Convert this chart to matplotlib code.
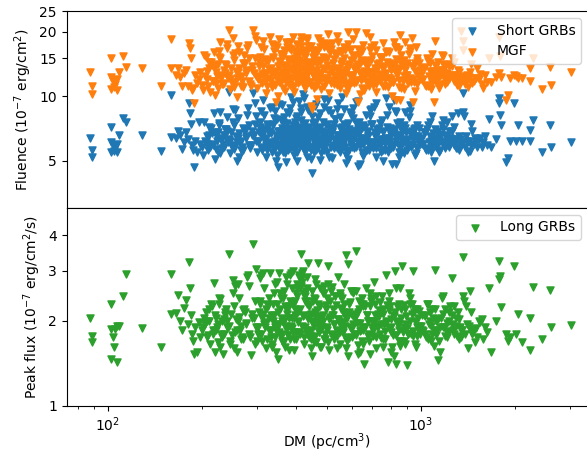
import matplotlib.pyplot as plt
from matplotlib.ticker import NullLocator

# DM (pc/cm^3) of each burst, shared by the three series
dm = [
    # sparse low-DM points
    87.6, 88.9, 88.9, 102.2, 102.0, 103.5, 104.5, 102.5, 106.5, 107.0,
    105.5, 108.4, 111.7, 114.2, 128.4, 147.7, 159, 159,
    # 165 - 200
    165, 168, 170, 172, 175, 178, 180, 182, 183, 184,
    185, 187, 188, 190, 192, 195, 197, 199,
    # 200 - 305
    201, 202, 205, 207, 210, 212, 215, 218, 220, 222,
    225, 228, 230, 233, 236, 240, 244, 246, 250, 252,
    255, 258, 260, 264, 268, 272, 276, 282, 286, 290,
    293, 298, 302, 305,
    # dense part, first pass
    310, 313, 316, 320, 323, 326, 329, 332, 335, 338,
    342, 345, 349, 352, 355, 358, 362, 365, 368, 372,
    375, 378, 382, 385, 388, 392, 395, 398, 402, 405,
    408, 411, 415, 418, 421, 425, 428, 431, 435, 438,
    442, 446, 448, 452, 455, 458, 462, 464, 468, 472,
    476, 480, 485, 490, 495, 500, 505, 510, 515, 520,
    526, 532, 538, 544, 550, 556, 562, 568, 575, 578,
    585, 592, 600, 607, 615, 622, 630, 638, 645, 652,
    657, 667, 675, 683, 692, 700, 710, 720, 730, 740,
    750, 762, 775, 785, 795, 805, 810, 825, 835, 845,
    857, 860, 870, 885, 900, 915, 930, 937, 945, 960,
    975, 990,
    # dense part, second pass
    303, 307, 311, 318, 321, 327, 331, 336, 340, 344,
    348, 351, 354, 357, 361, 364, 367, 371, 374, 377,
    381, 384, 387, 391, 394, 397, 400, 403, 406, 409,
    412, 416, 419, 423, 426, 430, 433, 437, 440, 444,
    450, 454, 457, 460, 466, 470, 474, 478, 483, 487,
    492, 497, 502, 507, 512, 518, 523, 529, 535, 541,
    547, 553, 559, 565, 571, 581, 588, 596, 603, 611,
    619, 626, 634, 641, 649, 660, 670, 679, 688, 696,
    705, 715, 725, 735, 745, 756, 768, 780, 790, 800,
    815, 830, 840, 850, 865, 878, 892, 905, 920, 940,
    952, 968, 982, 995,
    # band edges
    309, 334, 347, 360, 370, 380, 390, 401, 413, 424,
    434, 447, 461, 475, 489, 504, 520, 540, 560, 583,
    605, 628, 655, 690, 720, 755, 790, 820, 850, 890,
    925, 965, 240, 262, 280, 296, 228,
    # high DM
    1010, 1030, 1045, 1060, 1068, 1080, 1095, 1100, 1113, 1125,
    1130, 1150, 1165, 1180, 1195, 1208, 1225, 1240, 1253, 1270,
    1290, 1313, 1330, 1345, 1364, 1364, 1375, 1390, 1400, 1410,
    1437, 1450, 1460, 1473, 1485, 1510, 1530, 1567, 1580, 1600,
    1650, 1670, 1735, 1780, 1780, 1790, 1800, 1872, 1900, 1922,
    1982, 2010, 2040, 2107, 2228, 2230, 2282, 2429, 2582, 2600,
    3027,
    # extra fill, 200 - 300
    204, 209, 213, 217, 221, 224, 227, 232, 235, 238,
    242, 245, 248, 251, 254, 257, 261, 266, 270, 274,
    278, 284, 288, 295, 299,
    # extra fill, 300 - 1000
    301, 305, 308, 312, 315, 319, 322, 325, 328, 333,
    337, 341, 343, 346, 350, 353, 356, 359, 363, 366,
    369, 373, 376, 379, 383, 386, 389, 393, 396, 399,
    404, 407, 410, 414, 417, 420, 422, 427, 429, 432,
    436, 439, 443, 445, 449, 453, 456, 459, 463, 467,
    471, 477, 481, 486, 491, 496, 501, 506, 511, 516,
    522, 527, 533, 539, 545, 551, 557, 563, 569, 576,
    582, 590, 598, 606, 613, 621, 632, 643, 654, 665,
    677, 690, 702, 714, 727, 742, 758, 772, 788, 803,
    818, 833, 848, 863, 880, 897, 912, 934, 957, 985,
    # extra fill, 1000 - 1700
    1005, 1020, 1038, 1052, 1075, 1088, 1105, 1120, 1140, 1158,
    1172, 1188, 1215, 1232, 1260, 1280, 1300, 1322, 1355, 1382,
    1420, 1445, 1495, 1545, 1620,
    # extra fill, 550 - 1350
    545, 553, 561, 570, 579, 587, 595, 604, 612, 620,
    629, 637, 646, 655, 664, 673, 682, 691, 701, 711,
    721, 732, 743, 754, 765, 777, 789, 801, 813, 826,
    839, 852, 866, 880, 894, 909, 924, 940, 956, 972,
    988, 1003, 1018, 1034, 1050, 1066, 1083, 1100, 1118, 1136,
    1154, 1173, 1192, 1212, 1232, 1253, 1275, 1297, 1320, 1343,
    # extra fill, 200 - 300 again
    207, 211, 216, 219, 223, 226, 231, 234, 237, 243,
    249, 253, 259, 263, 267, 271, 277, 283, 289, 297,
]

# fluence, short GRB spectrum (1e-7 erg/cm^2)
fluence_short = [
    6.37, 5.61, 5.18, 7.17, 6.1, 5.9, 5.55, 5.5, 6.0, 5.5,
    5.8, 6.56, 7.88, 7.55, 6.56, 5.57, 10.1, 6.41,
    6.4, 6.9, 6.56, 5.67, 6.1, 6.8, 6.3, 9.25, 8.3, 7.4,
    5.9, 5.6, 4.65, 6.2, 5.5, 7.55, 6.0, 5.8,
    5.3, 7.55, 6.1, 6.0, 6.56, 5.8, 6.7, 8.3, 5.1, 5.67,
    6.8, 8.43, 6.3, 6.0, 6.6, 6.9, 10.5, 6.2, 8.75, 5.67,
    8.6, 5.0, 6.4, 6.1, 5.8, 7.0, 6.5, 7.3, 5.9, 10.3,
    6.56, 8.1, 6.2, 7.1,
    5.6, 9.6, 6.3, 5.2, 7.4, 6.0, 8.8, 6.7, 5.5, 7.9,
    6.2, 5.0, 4.66, 9.2, 6.9, 5.8, 7.6, 6.4, 5.4, 8.4,
    6.1, 7.1, 5.7, 9.9, 6.6, 5.3, 7.3, 6.0, 8.1, 6.8,
    9.5, 5.9, 7.7, 6.3, 10.2, 5.5, 7.0, 6.5, 8.6, 5.8,
    6.9, 5.1, 4.36, 7.5, 6.2, 9.0, 5.6, 6.7, 8.0, 6.1,
    7.2, 5.4, 6.6, 9.7, 5.9, 7.4, 6.3, 5.2, 8.3, 6.8,
    5.7, 7.8, 6.0, 9.3, 5.5, 7.0, 6.4, 8.7, 5.3, 4.85,
    7.5, 6.2, 5.8, 7.9, 6.6, 9.4, 4.73, 4.8, 7.2, 6.0,
    5.4, 8.2, 6.5, 5.6, 7.4, 6.1, 8.9, 5.2, 6.8, 5.9,
    7.7, 6.3, 9.8, 5.5, 7.1, 6.0, 4.8, 8.5, 4.8, 6.6,
    7.6, 5.7, 6.9, 5.4, 6.2, 8.0, 5.8, 6.5, 6.7, 5.3,
    7.3, 6.0,
    6.8, 7.2, 6.5, 7.0, 5.9, 6.9, 6.1, 7.3, 5.7, 6.6,
    7.8, 6.0, 5.6, 6.4, 7.1, 5.9, 6.8, 6.2, 7.5, 5.6,
    6.5, 7.0, 6.1, 5.8, 6.9, 7.6, 6.3, 5.5, 6.7, 7.2,
    6.0, 6.5, 5.7, 7.4, 6.2, 6.9, 5.9, 7.1, 6.4, 5.6,
    6.8, 7.3, 6.0, 6.5, 5.7, 7.0, 6.3, 6.9, 5.8, 7.6,
    6.2, 6.7, 5.5, 7.2, 6.4, 6.9, 5.9, 7.4, 6.1, 6.6,
    5.6, 7.1, 6.3, 6.8, 5.8, 7.3, 6.5, 6.0, 6.9, 5.7,
    7.5, 6.2, 6.7, 5.9, 7.1, 6.4, 5.6, 6.9, 6.1, 7.4,
    5.8, 6.6, 7.0, 6.2, 5.5, 6.8, 6.0, 7.2, 6.4, 5.7,
    6.9, 6.2, 7.5, 5.9, 6.6, 6.1, 7.1, 5.6, 6.7, 6.3,
    7.0, 5.8, 6.5, 6.0,
    8.5, 8.9, 5.3, 9.1, 4.9, 8.3, 9.4, 4.95, 8.8, 9.8,
    5.2, 8.6, 9.2, 5.05, 8.9, 9.6, 5.15, 8.7, 9.9, 5.1,
    8.8, 9.5, 5.25, 8.6, 9.3, 5.0, 8.9, 9.6, 5.2, 8.4,
    9.1, 5.4, 8.0, 5.2, 8.8, 9.3, 5.4,
    6.4, 5.7, 7.0, 6.1, 7.55, 5.5, 6.7, 5.0, 6.3, 5.9,
    6.9, 5.6, 7.3, 6.0, 6.6, 7.55, 5.8, 6.4, 8.1, 6.1,
    5.7, 8.3, 6.3, 5.9, 10.4, 8.4, 8.1, 6.5, 6.2, 5.47,
    5.55, 7.43, 6.9, 6.0, 6.4, 5.8, 6.3, 5.77, 6.1, 6.5,
    7.79, 5.77, 6.33, 9.8, 9.24, 8.2, 7.36, 4.9, 5.12, 6.14,
    9.24, 6.14, 7.36, 6.14, 6.92, 6.14, 7.71, 5.47, 7.36, 5.77,
    6.1,
    6.2, 5.6, 7.1, 6.0, 6.6, 5.5, 7.3, 6.4, 5.8, 7.0,
    6.1, 5.4, 6.8, 7.6, 5.9, 6.5, 7.9, 6.2, 5.6, 6.9,
    8.2, 5.7, 6.6, 7.4, 5.5,
    6.1, 7.6, 5.8, 6.9, 8.2, 6.4, 5.6, 7.2, 6.7, 6.0,
    7.4, 5.7, 8.5, 6.3, 6.9, 5.9, 7.7, 6.5, 5.5, 8.0,
    6.2, 7.0, 5.8, 6.6, 8.8, 6.1, 7.3, 5.6, 6.8, 7.9,
    6.4, 5.9, 7.1, 8.4, 6.2, 6.7, 5.7, 7.5, 6.0, 8.9,
    6.5, 7.2, 5.8, 6.9, 8.1, 6.3, 5.5, 7.6, 6.6, 7.0,
    5.9, 8.3, 6.4, 6.8, 5.6, 7.3, 6.1, 8.6, 6.7, 5.8,
    7.1, 6.3, 7.8, 5.7, 6.5, 8.0, 6.2, 5.9, 7.4, 6.6,
    5.5, 7.0, 8.2, 6.3, 5.8, 6.9, 7.6, 6.0, 5.4, 7.2,
    6.5, 8.1, 5.7, 6.8, 6.1, 7.5, 5.6, 6.4, 7.0, 5.9,
    6.7, 8.4, 6.0, 5.5, 7.3, 6.3, 5.8, 6.9, 7.1, 6.2,
    6.0, 6.8, 5.6, 7.3, 6.2, 5.8, 7.0, 6.4, 5.5, 6.6,
    7.7, 6.1, 5.9, 6.9, 6.3, 7.2, 5.7, 6.5, 6.0, 5.8,
    6.2, 5.9, 6.1, 6.4, 5.9,
    6.6, 5.9, 7.2, 6.3, 6.9, 5.6, 8.4, 6.1, 6.7, 5.8,
    7.0, 6.4, 5.5, 7.3, 6.2, 6.8, 5.9, 8.7, 6.0, 6.5,
    5.7, 7.1, 6.3, 6.9, 5.6, 8.2, 6.1, 6.6, 5.8, 7.0,
    6.4, 5.5, 7.2, 6.2, 6.8, 5.9, 8.5, 6.0, 6.5, 5.7,
    7.1, 6.3, 6.0, 6.8, 5.6, 6.5, 8.1, 6.1, 5.8, 6.6,
    6.2, 7.0, 5.7, 6.4, 6.0, 6.9, 5.9, 6.3, 5.6, 6.1,
    6.5, 7.2, 5.9, 6.8, 6.2, 7.5, 5.7, 6.6, 7.0, 6.3,
    5.8, 7.3, 6.1, 6.7, 5.6, 7.1, 6.4, 5.9, 6.9, 6.2,
]

# fluence, MGF spectrum (1e-7 erg/cm^2)
fluence_mgf = [
    12.97, 11.14, 10.2, 15.1, 12.3, 11.8, 11.0, 10.8, 12.0, 10.7,
    11.4, 13.0, 15.4, 13.7, 13.5, 11.1, 18.5, 13.5,
    12.6, 13.5, 12.3, 11.2, 12.8, 13.2, 11.1, 17.7, 16.8, 15.1,
    10.7, 10.9, 9.25, 12.5, 11.5, 12.0, 13.0, 11.3,
    10.7, 15.6, 15.2, 12.0, 13.5, 10.5, 14.0, 16.0, 10.1, 11.5,
    14.2, 15.0, 12.2, 11.4, 12.8, 16.8, 20.4, 12.0, 18.7, 11.0,
    15.9, 9.9, 13.0, 12.4, 11.8, 15.6, 13.3, 15.1, 11.2, 20.4,
    12.8, 18.3, 12.0, 14.5,
    11.5, 18.2, 12.8, 10.3, 14.8, 12.1, 19.0, 13.6, 11.0, 16.2,
    12.5, 9.4, 10.0, 18.5, 14.0, 11.7, 15.4, 12.9, 10.6, 17.0,
    12.3, 14.4, 11.3, 16.5, 13.2, 10.5, 15.0, 12.0, 17.5, 13.8,
    15.8, 11.8, 18.8, 12.6, 16.4, 10.9, 14.2, 13.0, 17.2, 11.6,
    13.9, 9.0, 8.75, 15.2, 12.4, 14.6, 11.1, 9.75, 18.7, 12.2,
    14.6, 10.8, 13.4, 17.8, 11.9, 15.0, 19.5, 10.4, 16.6, 13.6,
    11.4, 15.8, 12.0, 18.0, 10.9, 14.1, 12.8, 16.9, 10.3, 11.5,
    20.0, 12.4, 11.6, 15.5, 13.2, 20.0, 9.4, 10.2, 14.5, 12.1,
    10.7, 19.8, 13.0, 11.2, 14.8, 12.3, 17.3, 10.5, 13.7, 11.8,
    15.3, 12.6, 16.0, 11.0, 14.3, 12.0, 10.0, 17.0, 9.6, 13.1,
    19.4, 9.6, 14.0, 10.8, 12.5, 15.8, 11.6, 18.7, 9.4, 10.6,
    14.6, 12.0,
    13.9, 14.3, 12.7, 14.9, 11.9, 13.4, 12.9, 15.3, 11.4, 13.1,
    12.2, 14.6, 11.8, 15.7, 12.4, 13.7, 16.3, 11.6, 13.2, 14.9,
    12.0, 16.6, 13.5, 11.1, 14.2, 12.7, 15.5, 12.9, 11.5, 14.8,
    13.3, 16.0, 12.1, 14.4, 11.8, 15.9, 12.6, 13.8, 16.8, 11.3,
    14.1, 12.5, 15.6, 13.0, 11.7, 16.4, 12.8, 14.7, 12.2, 15.2,
    13.4, 11.6, 14.0, 12.7, 16.1, 13.1, 11.9, 14.9, 12.3, 15.7,
    13.5, 11.7, 14.4, 12.9, 16.5, 13.3, 11.4, 14.7, 12.6, 15.1,
    13.6, 11.9, 14.0, 12.8, 16.2, 13.1, 11.5, 14.6, 12.4, 15.4,
    13.0, 11.7, 14.2, 12.7, 15.0, 13.4, 11.9, 14.5, 12.2, 13.8,
    11.6, 14.9, 12.6, 13.5, 15.6, 11.8, 13.2, 14.3, 12.1, 13.9,
    11.7, 15.1, 12.5, 13.2,
    16.9, 17.6, 17.0, 15.0, 18.0, 16.8, 19.0, 17.4, 18.2, 16.0,
    18.6, 17.1, 16.3, 18.1, 17.0, 16.6, 17.8, 19.2, 16.2, 17.5,
    18.4, 16.7, 17.3, 18.9, 16.4, 17.7, 16.1, 17.9, 16.6, 18.0,
    16.3, 17.0, 17.5, 16.0, 17.3, 19.2, 18.0,
    13.6, 11.3, 15.0, 12.4, 14.3, 10.8, 13.1, 9.4, 18.1, 12.0,
    14.5, 11.4, 15.6, 12.8, 13.7, 11.8, 12.5, 14.1, 15.0, 12.2,
    11.6, 13.2, 12.0, 20.1, 18.1, 16.5, 12.4, 11.9, 12.6, 11.0,
    12.9, 14.2, 11.5, 11.8, 12.1, 13.5, 12.0, 11.4, 10.9, 12.5,
    15.1, 11.7, 12.3, 19.0, 12.8, 15.4, 12.3, 9.58, 10.1, 12.2,
    12.5, 12.4, 12.2, 12.2, 13.5, 11.8, 15.0, 10.8, 13.7, 11.3,
    12.9,
    12.4, 11.2, 14.5, 11.8, 13.0, 10.9, 16.2, 12.6, 11.5, 14.0,
    12.1, 10.8, 13.6, 15.5, 11.7, 13.1, 17.2, 12.3, 11.0, 14.3,
    16.8, 11.4, 13.3, 15.0, 10.9,
    12.2, 15.3, 11.6, 13.9, 16.6, 12.8, 11.1, 14.6, 13.4, 11.9,
    15.0, 11.3, 17.4, 12.6, 13.8, 11.7, 15.8, 13.0, 10.9, 16.5,
    12.4, 14.0, 11.5, 13.2, 18.0, 12.2, 14.7, 11.1, 13.7, 16.2,
    12.9, 11.8, 14.3, 17.1, 12.4, 13.5, 11.3, 15.2, 11.9, 18.3,
    13.0, 14.5, 11.6, 13.9, 16.4, 12.6, 10.9, 15.4, 13.2, 14.1,
    11.8, 16.9, 12.8, 13.6, 11.1, 14.8, 12.2, 17.6, 13.4, 11.5,
    14.3, 12.6, 15.9, 11.3, 13.0, 16.3, 12.4, 11.8, 15.0, 13.2,
    10.9, 14.1, 16.7, 12.6, 11.5, 13.9, 15.5, 11.9, 10.7, 14.5,
    13.0, 16.5, 11.3, 13.6, 12.2, 15.2, 11.1, 12.8, 14.1, 11.7,
    13.4, 17.0, 11.9, 10.9, 14.8, 12.6, 11.5, 13.9, 14.3, 12.4,
    11.9, 13.6, 11.1, 14.6, 12.3, 11.5, 14.0, 12.8, 10.9, 13.2,
    15.4, 12.1, 11.7, 13.8, 12.5, 14.4, 11.3, 12.9, 11.9, 11.4,
    12.3, 11.7, 12.1, 12.7, 11.6,
    13.3, 11.8, 14.6, 12.5, 13.9, 11.2, 16.5, 12.2, 13.5, 11.6,
    14.1, 12.8, 10.9, 14.8, 12.4, 13.7, 11.8, 17.0, 12.0, 13.1,
    11.4, 14.3, 12.6, 13.9, 11.2, 16.2, 12.2, 13.3, 11.6, 14.1,
    12.8, 11.0, 14.6, 12.4, 13.7, 11.8, 16.8, 12.0, 13.1, 11.4,
    14.3, 12.6, 12.0, 13.7, 11.2, 13.1, 15.8, 12.2, 11.6, 13.3,
    12.4, 14.1, 11.4, 12.8, 12.0, 13.9, 11.8, 12.6, 11.2, 12.2,
    13.1, 14.5, 11.8, 13.7, 12.4, 15.2, 11.4, 13.3, 14.1, 12.6,
    11.6, 14.8, 12.2, 13.5, 11.2, 14.3, 12.8, 11.8, 13.9, 12.4,
]

# peak flux, long GRB spectrum (1e-7 erg/cm^2/s)
peak_long = [
    2.05, 1.77, 1.68, 2.29, 1.87, 1.75, 1.61, 1.47, 1.92, 1.43,
    1.87, 1.92, 2.45, 2.93, 1.88, 1.61, 2.92, 2.12,
    2.13, 2.46, 2.0, 1.85, 2.21, 2.37, 1.95, 3.22, 2.6, 2.1,
    1.8, 1.7, 1.53, 1.9, 1.55, 1.98, 1.75, 1.85,
    1.9, 2.05, 2.15, 1.75, 2.0, 1.65, 2.25, 2.72, 1.55, 1.85,
    1.95, 2.38, 1.8, 1.53, 2.1, 1.9, 3.45, 1.7, 2.78, 1.6,
    2.65, 1.55, 2.0, 1.85, 1.75, 2.2, 1.95, 2.65, 1.51, 3.74,
    2.05, 3.04, 1.8, 2.83,
    1.7, 2.95, 1.95, 1.6, 2.3, 1.85, 2.95, 2.1, 1.65, 2.5,
    1.9, 1.55, 1.46, 2.95, 2.2, 1.75, 2.4, 2.0, 1.62, 2.7,
    1.9, 2.25, 1.72, 2.95, 2.05, 1.58, 2.35, 1.82, 2.6, 2.15,
    2.9, 1.8, 3.45, 2.75, 3.0, 2.45, 2.55, 2.3, 3.2, 1.75,
    2.1, 1.6, 1.5, 2.35, 1.92, 2.8, 1.68, 2.05, 3.2, 1.88,
    2.25, 1.62, 2.0, 2.65, 1.8, 2.4, 3.12, 1.58, 2.55, 2.1,
    1.72, 2.45, 1.85, 2.85, 1.65, 2.2, 1.98, 2.7, 1.6, 3.4,
    3.16, 1.9, 1.75, 2.5, 2.05, 3.52, 1.52, 1.55, 2.3, 1.85,
    1.41, 2.6, 2.0, 1.7, 2.35, 1.9, 2.75, 1.6, 2.12, 1.8,
    2.45, 1.95, 2.9, 1.43, 2.25, 1.55, 1.62, 2.99, 1.41, 2.0,
    2.6, 1.63, 3.12, 1.7, 1.39, 2.5, 1.8, 2.3, 2.99, 1.65,
    2.2, 1.85,
    2.15, 2.3, 2.05, 1.9, 2.2, 2.4, 1.75, 2.0, 2.1, 1.85,
    2.3, 1.95, 2.5, 1.8, 2.05, 1.7, 2.25, 1.88, 2.12, 1.78,
    2.35, 1.92, 2.6, 1.83, 2.05, 2.2, 1.72, 2.45, 1.98, 2.85,
    2.65, 2.95, 2.5, 2.1, 1.9, 2.35, 1.8, 2.05, 2.25, 1.85,
    2.0, 2.4, 1.76, 2.15, 1.95, 2.3, 1.82, 2.08, 1.9, 2.5,
    1.72, 2.2, 1.86, 2.02, 2.35, 1.78, 2.1, 1.95, 2.28, 1.84,
    2.0, 2.45, 1.9, 2.15, 1.75, 2.05, 2.3, 1.88, 2.1, 1.8,
    2.55, 1.96, 2.2, 1.84, 2.4, 1.9, 2.1, 1.76, 2.25, 2.0,
    1.86, 2.3, 1.92, 2.08, 1.74, 2.2, 1.84, 2.0, 2.35, 1.9,
    2.1, 1.78, 2.25, 1.95, 2.05, 1.82, 2.2, 1.88, 2.0, 1.76,
    2.15, 1.9, 2.05, 1.8,
    2.9, 1.62, 2.75, 1.7, 2.85, 1.58, 3.0, 2.7, 2.8, 1.66,
    2.6, 1.72, 2.7, 1.62, 2.5, 1.68, 2.62, 1.6, 2.4, 1.5,
    2.55, 1.64, 2.3, 1.52, 2.45, 1.62, 2.5, 1.5, 2.3, 1.65,
    2.4, 1.62, 2.0, 2.4, 2.9, 1.66, 1.62,
    2.1, 1.8, 2.3, 1.95, 2.15, 1.7, 2.05, 1.63, 3.02, 1.85,
    1.45, 1.55, 2.4, 1.9, 2.2, 1.75, 2.0, 2.25, 2.83, 1.85,
    2.05, 2.15, 1.9, 1.75, 3.36, 2.45, 2.35, 2.25, 1.95, 1.6,
    2.55, 2.15, 1.8, 1.87, 1.68, 1.75, 2.0, 2.03, 1.73, 1.9,
    2.6, 1.55, 2.0, 3.26, 2.8, 2.87, 2.24, 1.8, 1.7, 1.75,
    3.12, 1.8, 2.11, 1.68, 2.05, 1.58, 2.63, 1.73, 2.56, 1.9,
    1.93,
    1.95, 1.78, 2.3, 1.85, 2.05, 1.68, 2.4, 2.0, 1.8, 2.2,
    1.9, 1.66, 2.12, 2.5, 1.82, 2.02, 2.7, 1.92, 1.72, 2.15,
    2.85, 1.75, 2.05, 2.35, 1.7,
    1.9, 2.35, 1.8, 2.12, 2.6, 1.98, 1.72, 2.25, 2.05, 1.85,
    2.3, 1.75, 2.7, 1.95, 2.15, 1.82, 2.4, 2.0, 1.68, 2.55,
    1.92, 2.18, 1.78, 2.05, 2.9, 1.88, 2.28, 1.72, 2.1, 2.5,
    2.0, 1.82, 2.2, 2.65, 1.92, 2.08, 1.75, 2.35, 1.86, 2.85,
    2.02, 2.25, 1.78, 2.12, 2.55, 1.95, 1.68, 2.38, 2.05, 2.18,
    1.82, 2.6, 1.98, 2.1, 1.72, 2.28, 1.9, 2.7, 2.06, 1.8,
    2.2, 1.95, 2.45, 1.76, 2.02, 2.5, 1.92, 1.82, 2.3, 2.05,
    1.7, 2.15, 2.55, 1.95, 1.8, 2.12, 2.35, 1.86, 1.66, 2.25,
    2.0, 2.5, 1.76, 2.1, 1.9, 2.32, 1.72, 1.98, 2.18, 1.82,
    2.08, 2.6, 1.86, 1.7, 2.28, 1.95, 1.8, 2.12, 2.2, 1.92,
    1.85, 2.1, 1.75, 2.3, 1.92, 1.8, 2.2, 2.0, 1.7, 2.05,
    2.45, 1.9, 1.82, 2.15, 1.95, 2.25, 1.76, 2.02, 1.86, 1.8,
    1.92, 1.84, 1.88, 1.98, 1.82,
    2.02, 1.82, 2.22, 1.92, 2.12, 1.74, 2.32, 1.88, 2.06, 1.78,
    2.15, 1.96, 1.7, 2.25, 1.9, 2.1, 1.8, 2.4, 1.85, 2.0,
    1.75, 2.18, 1.94, 2.12, 1.72, 2.28, 1.88, 2.02, 1.78, 2.15,
    1.96, 1.7, 2.2, 1.9, 2.08, 1.8, 2.3, 1.84, 2.0, 1.76,
    2.16, 1.92, 1.84, 2.08, 1.72, 2.0, 2.2, 1.86, 1.78, 2.02,
    1.9, 2.12, 1.76, 1.96, 1.84, 2.1, 1.8, 1.92, 1.72, 1.86,
    2.0, 2.2, 1.8, 2.1, 1.9, 2.3, 1.75, 2.02, 2.15, 1.92,
    1.78, 2.25, 1.86, 2.06, 1.72, 2.18, 1.96, 1.8, 2.12, 1.9,
]

fig = plt.figure(figsize=(5.87, 4.59), dpi=100)
ax1 = fig.add_axes([0.1136, 0.5468, 0.888, 0.4292])
ax2 = fig.add_axes([0.1136, 0.1155, 0.888, 0.4314], sharex=ax1)

ax1.scatter(dm, fluence_short, marker='v', s=26, color='C0', label='Short GRBs')
ax1.scatter(dm, fluence_mgf, marker='v', s=26, color='C1', label='MGF')
ax2.scatter(dm, peak_long, marker='v', s=26, color='C2', label='Long GRBs')

ax1.set_xscale('log')
ax1.set_xlim(73.8, 3417)

ax1.set_yscale('log')
ax1.set_ylim(3, 25)
ax1.set_yticks([5, 10, 15, 20, 25])
ax1.set_yticklabels(['5', '10', '15', '20', '25'])
ax1.yaxis.set_minor_locator(NullLocator())
ax1.tick_params(axis='x', which='both', bottom=False, labelbottom=False)
ax1.set_ylabel('Fluence ($10^{-7}$ erg/cm$^2$)')
ax1.legend(loc='upper right')

ax2.set_yscale('log')
ax2.set_ylim(1, 5)
ax2.set_yticks([1, 2, 3, 4])
ax2.set_yticklabels(['1', '2', '3', '4'])
ax2.yaxis.set_minor_locator(NullLocator())
ax2.set_ylabel('Peak flux ($10^{-7}$ erg/cm$^2$/s)')
ax2.set_xlabel('DM (pc/cm$^3$)', labelpad=-2)
ax2.legend(loc='upper right')

fig.savefig('out.png', dpi=100)
